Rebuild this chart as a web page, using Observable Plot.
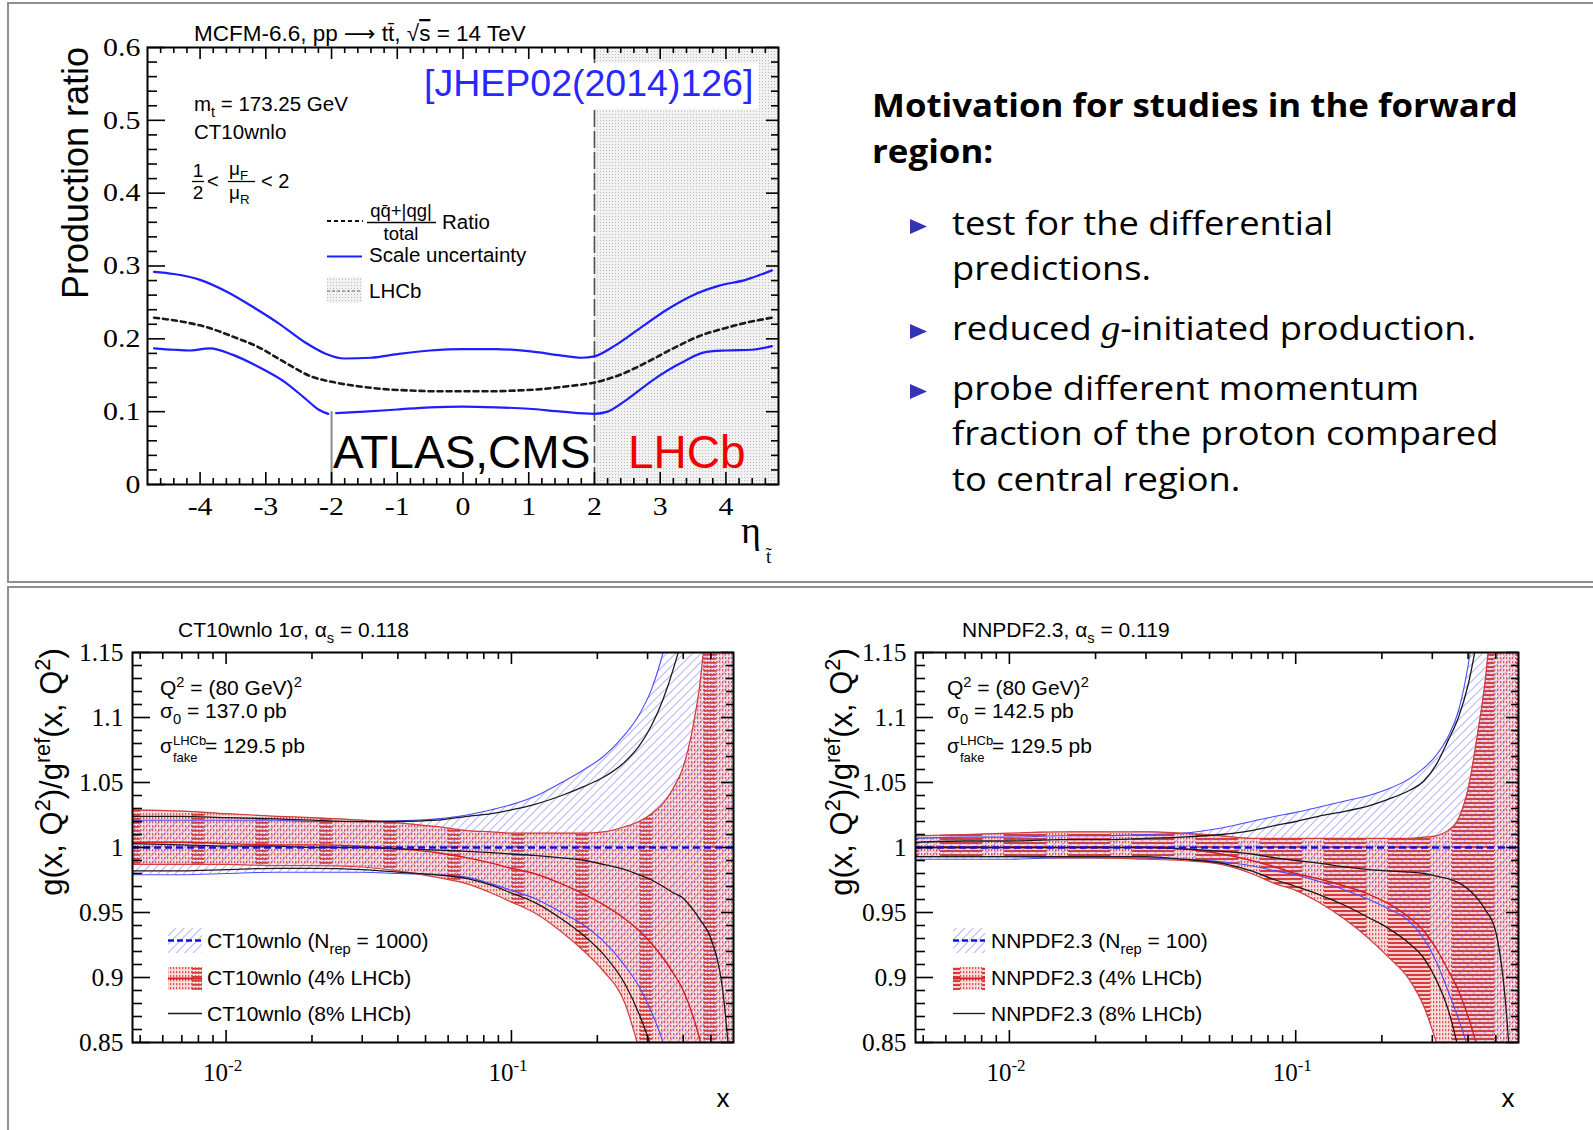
<!DOCTYPE html>
<html><head><meta charset="utf-8">
<script src="https://cdn.jsdelivr.net/npm/d3@7"></script>
<script src="https://cdn.jsdelivr.net/npm/@observablehq/plot@0.6"></script>
<style>
html,body{margin:0;padding:0;background:#fff;}
#page{position:relative;width:1593px;height:1130px;overflow:hidden;background:#fff;}
.line{position:absolute;background:#8f8f8f;}
</style></head><body>
<div id="page"></div>
<svg width="0" height="0" style="position:absolute">
<defs>
<pattern id="lhcbPat" width="3" height="3" patternUnits="userSpaceOnUse">
 <rect width="3" height="3" fill="#f1f1f1"/><rect width="1" height="1" fill="#bdbdbd"/>
</pattern>
<pattern id="blueHatch" width="6" height="6" patternUnits="userSpaceOnUse" patternTransform="rotate(45)">
 <line x1="0" y1="0" x2="0" y2="6" stroke="#7272ff" stroke-width="1.1"/>
</pattern>
<pattern id="dotsRed" width="3" height="3" patternUnits="userSpaceOnUse">
 <rect width="3" height="3" fill="#f9dede"/><rect width="1.3" height="1.3" fill="#de5a5a"/>
</pattern>
<pattern id="redCT" width="64" height="4" patternUnits="userSpaceOnUse">
 <rect width="64" height="4" fill="url(#dotsRed)"/>
 <rect x="0" y="0" width="12" height="1.7" fill="#d43838"/>
</pattern>
<pattern id="redNN" width="64" height="4" patternUnits="userSpaceOnUse">
 <rect width="64" height="4" fill="#f7d2d2"/>
 <rect x="0" y="0" width="64" height="2" fill="#d63c3c"/>
 <rect x="0" y="0" width="22" height="4" fill="url(#dotsRed)"/>
</pattern>
</defs>
</svg>
<script>
// ================= TOP CHART DATA =================
const etaDomain = [-4.8, 4.8];
const ratioDomain = [0, 0.6];
const etaUpper = [-4.7,-4.4,-4.0,-3.6,-3.2,-2.8,-2.4,-2.1,-1.8,-1.4,-1.0,-0.5,0,0.5,1.0,1.5,1.8,2.0,2.3,2.7,3.1,3.5,3.9,4.3,4.7];
const ratioUpper = [0.292,0.289,0.281,0.265,0.244,0.221,0.195,0.180,0.173,0.174,0.179,0.184,0.186,0.186,0.183,0.177,0.174,0.176,0.190,0.215,0.240,0.260,0.273,0.281,0.294];
const etaCentral = [-4.7,-4.3,-3.9,-3.5,-3.1,-2.7,-2.3,-2.0,-1.6,-1.2,-0.8,-0.4,0,0.4,0.8,1.2,1.6,2.0,2.4,2.8,3.2,3.6,4.0,4.3,4.7];
const ratioCentral = [0.229,0.224,0.216,0.203,0.188,0.167,0.148,0.141,0.135,0.131,0.129,0.128,0.128,0.128,0.129,0.131,0.135,0.140,0.151,0.168,0.187,0.204,0.215,0.222,0.229];
const etaLower = [-4.7,-4.4,-4.15,-3.85,-3.5,-3.1,-2.7,-2.4,-2.2,-2.05,-1.93,-1.5,-1.0,-0.5,0,0.5,1.0,1.5,2.0,2.2,2.5,2.9,3.3,3.7,4.0,4.4,4.7];
const ratioLower = [0.187,0.185,0.184,0.187,0.178,0.161,0.140,0.118,0.103,0.097,0.098,0.100,0.103,0.106,0.107,0.106,0.104,0.100,0.097,0.100,0.117,0.144,0.166,0.182,0.184,0.185,0.190];
const lhcbRegion = [2.0, 4.8];
const lhcbEdge = [2.0];
const atlasEdge = [{eta: -2.0, lo: 0, hi: 0.1}];
const yTicksTop = [0, 0.1, 0.2, 0.3, 0.4, 0.5, 0.6];
const xTicksTop = [-4, -3, -2, -1, 0, 1, 2, 3, 4];

// ================= BOTTOM CHARTS DATA =================
const xDomainPDF = [0.0047, 0.6];
const ratioDomainPDF = [0.85, 1.15];
const yTicksPDF = [0.85, 0.9, 0.95, 1, 1.05, 1.1, 1.15];
const decades = [0.01, 0.1];
const centralValue = [1.0];
const xGrid = [0.0047,0.007,0.01,0.015,0.02,0.03,0.04,0.055,0.07,0.085,0.1,0.12,0.15,0.18,0.21,0.25,0.28,0.31,0.34,0.37,0.4,0.43,0.46,0.5,0.55,0.6];
// CT10wnlo
const ctBlueUp  = [1.021,1.021,1.021,1.021,1.020,1.020,1.0205,1.022,1.025,1.029,1.033,1.039,1.050,1.060,1.070,1.087,1.102,1.122,1.150,1.185,1.225,1.27,1.32,1.40,1.50,1.60];
const ctBlueLo  = [0.979,0.979,0.980,0.981,0.981,0.981,0.980,0.979,0.977,0.972,0.967,0.961,0.950,0.940,0.928,0.909,0.893,0.873,0.850,0.82,0.79,0.76,0.72,0.68,0.62,0.56];
const ctRedUp   = [1.029,1.028,1.026,1.024,1.023,1.021,1.019,1.016,1.013,1.012,1.011,1.011,1.011,1.011,1.012,1.016,1.020,1.026,1.034,1.046,1.062,1.090,1.130,1.22,1.35,1.50];
const ctRedLo   = [0.987,0.987,0.987,0.986,0.986,0.985,0.982,0.977,0.972,0.965,0.958,0.950,0.935,0.920,0.905,0.880,0.845,0.810,0.770,0.730,0.690,0.650,0.600,0.550,0.500,0.450];
const ctRedMid  = [1.004,1.004,1.003,1.002,1.002,1.001,0.999,0.996,0.992,0.988,0.984,0.980,0.972,0.964,0.956,0.945,0.936,0.926,0.915,0.903,0.890,0.872,0.850,0.81,0.75,0.70];
const ctBlackUp = [1.024,1.024,1.023,1.022,1.021,1.020,1.020,1.021,1.024,1.026,1.029,1.033,1.040,1.047,1.054,1.066,1.078,1.094,1.114,1.138,1.165,1.20,1.24,1.30,1.40,1.50];
const ctBlackLo = [0.982,0.982,0.983,0.984,0.984,0.983,0.981,0.979,0.976,0.971,0.965,0.958,0.945,0.932,0.918,0.895,0.872,0.845,0.810,0.780,0.740,0.700,0.660,0.600,0.550,0.500];
const ctBlackMid= [1.003,1.002,1.001,1.001,1.000,1.000,0.999,0.998,0.997,0.996,0.995,0.994,0.992,0.990,0.987,0.983,0.979,0.975,0.970,0.965,0.961,0.953,0.944,0.930,0.890,0.800];
// NNPDF2.3
const nnBlueUp  = [1.007,1.008,1.008,1.009,1.009,1.010,1.011,1.015,1.020,1.024,1.027,1.031,1.036,1.040,1.045,1.053,1.061,1.071,1.085,1.105,1.140,1.19,1.25,1.35,1.50,1.60];
const nnBlueLo  = [0.991,0.991,0.991,0.992,0.992,0.992,0.991,0.989,0.986,0.982,0.979,0.974,0.967,0.960,0.953,0.943,0.930,0.912,0.890,0.868,0.845,0.81,0.77,0.70,0.60,0.50];
const nnRedUp   = [1.009,1.010,1.011,1.012,1.012,1.012,1.011,1.009,1.007,1.007,1.007,1.007,1.007,1.007,1.007,1.007,1.008,1.009,1.013,1.022,1.045,1.085,1.130,1.22,1.35,1.50];
const nnRedLo   = [0.993,0.993,0.993,0.992,0.992,0.991,0.990,0.987,0.980,0.972,0.967,0.958,0.944,0.930,0.916,0.898,0.878,0.850,0.820,0.790,0.750,0.700,0.650,0.600,0.500,0.400];
const nnRedMid  = [1.000,1.000,1.000,1.000,1.000,1.000,0.999,0.995,0.990,0.985,0.980,0.976,0.970,0.964,0.957,0.946,0.936,0.922,0.906,0.890,0.870,0.847,0.820,0.780,0.700,0.600];
const nnBlackUp = [1.004,1.005,1.005,1.006,1.006,1.007,1.008,1.010,1.013,1.017,1.020,1.024,1.028,1.032,1.037,1.044,1.051,1.064,1.082,1.100,1.125,1.16,1.20,1.28,1.40,1.50];
const nnBlackLo = [0.993,0.993,0.993,0.993,0.993,0.993,0.991,0.988,0.982,0.975,0.970,0.964,0.955,0.946,0.938,0.926,0.915,0.898,0.876,0.845,0.810,0.770,0.720,0.650,0.550,0.450];
const nnBlackMid= [1.000,1.000,1.000,1.000,1.000,1.000,0.999,0.997,0.995,0.992,0.990,0.988,0.985,0.983,0.982,0.981,0.980,0.978,0.976,0.973,0.968,0.961,0.952,0.935,0.860,0.700];

// ================= HELPERS =================
const page = document.getElementById("page");
function place(el, left, top) {
  el.style.position = "absolute"; el.style.left = left + "px"; el.style.top = top + "px";
  page.appendChild(el);
}
function frameTicks({xMajor, xMinor, yMajor, yMinor, w, h, L}) {
  const s = {stroke: "black", strokeWidth: 1.6};
  return [
    Plot.tickY(yMajor, {y: d => d, insetRight: w - L.yl, ...s}),
    Plot.tickY(yMinor, {y: d => d, insetRight: w - L.ylm, ...s}),
    Plot.tickY(yMajor, {y: d => d, insetLeft: w - L.yr, ...s}),
    Plot.tickY(yMinor, {y: d => d, insetLeft: w - L.yrm, ...s}),
    Plot.tickX(xMajor, {x: d => d, insetTop: h - L.x, ...s}),
    Plot.tickX(xMinor, {x: d => d, insetTop: h - L.xm, ...s}),
    Plot.tickX(xMajor, {x: d => d, insetBottom: h - L.x, ...s}),
    Plot.tickX(xMinor, {x: d => d, insetBottom: h - L.xm, ...s})
  ];
}
function stretch(svg, label, f) {
  svg.querySelectorAll(`g[aria-label="${label}"] text`).forEach(t => {
    const len = t.getComputedTextLength();
    t.setAttribute("textLength", (len * f).toFixed(1));
    t.setAttribute("lengthAdjust", "spacingAndGlyphs");
  });
}

// ================= TOP CHART =================
{
  const W = 800, H = 580, mL = 147, mR = 22, mT = 47, mB = 96;
  const w = W - mL - mR, h = H - mT - mB;
  const upperRows = etaUpper.map((eta, i) => ({eta, v: ratioUpper[i]}));
  const centralRows = etaCentral.map((eta, i) => ({eta, v: ratioCentral[i]}));
  const lowerRows = etaLower.map((eta, i) => ({eta, v: ratioLower[i], seg: eta < -2 ? "a" : "b"}));
  const yMinor = d3.range(0.02, 0.6, 0.02).filter(v => Math.abs(v * 10 - Math.round(v * 10)) > 1e-6);
  const xMinor = d3.range(-4.6, 4.61, 0.2).filter(v => Math.abs(v - Math.round(v)) > 1e-6);
  const svg = Plot.plot({
    width: W, height: H, marginLeft: mL, marginRight: mR, marginTop: mT, marginBottom: mB,
    x: {domain: etaDomain}, y: {domain: ratioDomain},
    style: {background: "transparent", overflow: "visible", color: "black"},
    marks: [
      Plot.rect([lhcbRegion], {x1: d => d[0], x2: d => d[1], fill: "url(#lhcbPat)"}),
      Plot.ruleX(lhcbEdge, {x: d => d, stroke: "#505050", strokeWidth: 1.6, strokeDasharray: "17,4"}),
      Plot.ruleX(atlasEdge, {x: "eta", y1: "lo", y2: "hi", stroke: "#8a8a8a", strokeWidth: 2}),
      Plot.line(centralRows, {x: "eta", y: "v", stroke: "#1a1a1a", strokeWidth: 2.6, strokeDasharray: "5,4", curve: "monotone-x"}),
      Plot.line(upperRows, {x: "eta", y: "v", stroke: "#1e1eff", strokeWidth: 2.2, curve: "monotone-x"}),
      Plot.line(lowerRows, {x: "eta", y: "v", z: "seg", stroke: "#1e1eff", strokeWidth: 2.2, curve: "monotone-x"}),
      ...frameTicks({xMajor: xTicksTop, xMinor, yMajor: yTicksTop, yMinor, w, h,
        L: {yl: 18, ylm: 10, yr: 12, yrm: 7, x: 12, xm: 6}}),
      Plot.frame({stroke: "black", strokeWidth: 2}),
      Plot.axisY(yTicksTop, {tickSize: 0, tickPadding: 7, tickFormat: d => String(d), fontSize: 26, fontFamily: "Liberation Serif", label: null}),
      Plot.axisX(xTicksTop, {tickSize: 0, tickPadding: 12, tickFormat: d => String(d), fontSize: 26, fontFamily: "Liberation Serif", label: null})
    ]
  });
  place(svg, 0, 0);
  stretch(svg, "y-axis tick label", 1.15);
  stretch(svg, "x-axis tick label", 1.15);
}

// ================= BOTTOM CHARTS =================
function pdfChart(rows, {left, width, marginLeft, marginRight, redFill}) {
  const H = 540, mT = 62, mB = 88;
  const w = width - marginLeft - marginRight, h = H - mT - mB;
  const curve = "monotone-x";
  const yMinor = d3.range(0.86, 1.15, 0.01).filter(v => Math.abs(v * 20 - Math.round(v * 20)) > 1e-6);
  const xMinor = [...d3.range(5, 10).map(k => k * 0.001), ...d3.range(2, 10).map(k => k * 0.01), ...d3.range(2, 6).map(k => k * 0.1)];
  const svg = Plot.plot({
    width, height: H, marginLeft, marginRight, marginTop: mT, marginBottom: mB,
    x: {type: "log", domain: xDomainPDF, axis: null},
    y: {domain: ratioDomainPDF},
    style: {background: "transparent", overflow: "visible", color: "black"},
    marks: [
      Plot.areaY(rows, {x: "x", y1: "redLo", y2: "redUp", fill: redFill, curve, clip: true}),
      Plot.areaY(rows, {x: "x", y1: "blueLo", y2: "blueUp", fill: "url(#blueHatch)", curve, clip: true}),
      Plot.line(rows, {x: "x", y: "blueUp", stroke: "#4b4bff", strokeWidth: 1.1, curve, clip: true}),
      Plot.line(rows, {x: "x", y: "blueLo", stroke: "#4b4bff", strokeWidth: 1.1, curve, clip: true}),
      Plot.line(rows, {x: "x", y: "redUp", stroke: "#d23c3c", strokeWidth: 1.2, curve, clip: true}),
      Plot.line(rows, {x: "x", y: "redLo", stroke: "#d23c3c", strokeWidth: 1.2, curve, clip: true}),
      Plot.line(rows, {x: "x", y: "redMid", stroke: "#d61e1e", strokeWidth: 1.4, curve, clip: true}),
      Plot.line(rows, {x: "x", y: "blackUp", stroke: "#1a1a1a", strokeWidth: 1.3, curve, clip: true}),
      Plot.line(rows, {x: "x", y: "blackLo", stroke: "#1a1a1a", strokeWidth: 1.3, curve, clip: true}),
      Plot.line(rows, {x: "x", y: "blackMid", stroke: "#1a1a1a", strokeWidth: 1.3, curve, clip: true}),
      Plot.ruleY(centralValue, {y: d => d, stroke: "#1212d6", strokeWidth: 2.6, strokeDasharray: "7,4"}),
      ...frameTicks({xMajor: decades, xMinor, yMajor: yTicksPDF, yMinor, w, h,
        L: {yl: 18, ylm: 10, yr: 12, yrm: 7, x: 12, xm: 7}}),
      Plot.frame({stroke: "black", strokeWidth: 2}),
      Plot.axisY(yTicksPDF, {tickSize: 0, tickPadding: 9, tickFormat: d => String(d), fontSize: 25, fontFamily: "Liberation Serif", label: null}),
      Plot.text(decades, {x: d => d, frameAnchor: "bottom", text: () => "10", textAnchor: "end", dx: 2, dy: 38, fontSize: 25, fontFamily: "Liberation Serif"}),
      Plot.text(decades, {x: d => d, frameAnchor: "bottom", text: d => String(Math.round(Math.log10(d))), textAnchor: "start", dx: 2, dy: 28, fontSize: 17, fontFamily: "Liberation Serif"})
    ]
  });
  place(svg, left, 590);
  stretch(svg, "y-axis tick label", 1.02);
}
const ctRows = xGrid.map((x, i) => ({x, blueUp: ctBlueUp[i], blueLo: ctBlueLo[i], redUp: ctRedUp[i], redLo: ctRedLo[i], redMid: ctRedMid[i], blackUp: ctBlackUp[i], blackLo: ctBlackLo[i], blackMid: ctBlackMid[i]}));
const nnRows = xGrid.map((x, i) => ({x, blueUp: nnBlueUp[i], blueLo: nnBlueLo[i], redUp: nnRedUp[i], redLo: nnRedLo[i], redMid: nnRedMid[i], blackUp: nnBlackUp[i], blackLo: nnBlackLo[i], blackMid: nnBlackMid[i]}));
pdfChart(ctRows, {left: 0, width: 790, marginLeft: 132, marginRight: 57, redFill: "url(#redCT)"});
pdfChart(nnRows, {left: 790, width: 803, marginLeft: 125, marginRight: 75, redFill: "url(#redNN)"});

// ================= PANEL BORDERS =================
function hline(x, y, w) { const d = document.createElement("div"); d.className = "line"; d.style.cssText += `left:${x}px;top:${y}px;width:${w}px;height:2px;`; page.appendChild(d); }
function vline(x, y, h) { const d = document.createElement("div"); d.className = "line"; d.style.cssText += `left:${x}px;top:${y}px;width:2px;height:${h}px;`; page.appendChild(d); }
hline(7, 2, 1600); vline(7, 2, 581); hline(7, 581, 1600);
hline(7, 586, 1600); vline(7, 586, 560);

// ================= TEXT OVERLAY =================
function rich(s, fs) {
  const parts = s.split(/(\^\{[^}]*\}|_\{[^}]*\})/);
  let cur = 0, out = "";
  for (const p of parts) {
    if (!p) continue;
    let shift = 0, size = fs, text = p;
    if (p.startsWith("^{")) { shift = -0.38 * fs; size = 0.7 * fs; text = p.slice(2, -1); }
    else if (p.startsWith("_{")) { shift = 0.28 * fs; size = 0.7 * fs; text = p.slice(2, -1); }
    out += `<tspan dy="${(shift - cur).toFixed(2)}" font-size="${size.toFixed(1)}">${text}</tspan>`;
    cur = shift;
  }
  return out;
}
function T(x, y, fs, s, o = {}) {
  const tr = o.rotate ? `translate(${x},${y}) rotate(-90)` : `translate(${x},${y})` + (o.sx ? ` scale(${o.sx},1)` : "");
  const body = o.raw ? s : rich(s, fs);
  return `<text transform="${tr}" font-family="${o.family || "Liberation Sans"}" font-size="${fs}" fill="${o.fill || "#000"}" text-anchor="${o.anchor || "start"}" font-weight="${o.weight || 400}" style="white-space:pre">${body}</text>`;
}
let ov = "";
// --- top chart annotations
ov += `<rect x="420" y="63" width="339" height="46" fill="#fff"/>`;
ov += T(194, 41, 22.5, `MCFM-6.6, pp <tspan font-family="DejaVu Sans" font-size="22">⟶</tspan> tt&#x304;, √<tspan style="text-decoration:overline">s</tspan> = 14 TeV`, {raw: true});
ov += T(194, 111, 20.5, "m_{t} = 173.25 GeV");
ov += T(194, 139, 20.5, "CT10wnlo");
ov += T(198, 177, 19, "1", {anchor: "middle"}) + `<line x1="192" x2="204" y1="181.5" y2="181.5" stroke="#000" stroke-width="1.3"/>` + T(198, 199, 19, "2", {anchor: "middle"});
ov += T(207, 188, 20, "<");
ov += T(229, 175, 19, "μ_{F}") + `<line x1="228" x2="255" y1="181.5" y2="181.5" stroke="#000" stroke-width="1.3"/>` + T(229, 199, 19, "μ_{R}");
ov += T(261, 188, 20, "< 2");
ov += `<line x1="327" x2="363" y1="221" y2="221" stroke="#111" stroke-width="2.2" stroke-dasharray="4,3"/>`;
ov += T(401, 217, 18.5, `qq&#x304;+|qg|`, {raw: true, anchor: "middle"}) + `<line x1="367" x2="436" y1="222.5" y2="222.5" stroke="#000" stroke-width="1.4"/>` + T(401, 240, 18.5, "total", {anchor: "middle"});
ov += T(442, 229, 20.5, "Ratio");
ov += `<line x1="327" x2="362" y1="256.5" y2="256.5" stroke="#1e1eff" stroke-width="2.2"/>`;
ov += T(369, 262, 20.5, "Scale uncertainty");
ov += `<rect x="327" y="277" width="35" height="26" fill="url(#lhcbPat)"/><line x1="327" x2="362" y1="291" y2="291" stroke="#666" stroke-width="1.2" stroke-dasharray="3,2"/>`;
ov += T(369, 298, 20.5, "LHCb");
ov += T(424, 96, 37.5, "[JHEP02(2014)126]", {fill: "#2727ff"});
ov += T(333, 468, 46, "ATLAS,CMS");
ov += T(628, 468, 46, "LHCb", {fill: "#f00000"});
ov += T(88, 173, 36, "Production ratio", {rotate: true, anchor: "middle"});
ov += T(741, 543, 38, "η", {family: "Liberation Serif"});
ov += T(766, 563, 19, `t&#x303;`, {family: "Liberation Serif", raw: true});
// --- bottom left
ov += T(178, 637, 20, "CT10wnlo 1σ, α_{s} = 0.118", {sx: 1.05});
ov += T(160, 695, 20, "Q^{2} = (80 GeV)^{2}", {sx: 1.05});
ov += T(160, 718, 20, "σ_{0} = 137.0 pb", {sx: 1.05});
ov += T(160, 753, 20, "σ") + T(173, 745, 13, "LHCb") + T(173, 762, 13, "fake") + T(205, 753, 20, "= 129.5 pb", {sx: 1.05});
ov += T(62, 772, 31, "g(x, Q^{2})/g^{ref}(x, Q^{2})", {rotate: true, anchor: "middle"});
ov += T(723, 1107, 26, "x", {anchor: "middle"});
// legend left
ov += `<rect x="168" y="928" width="34" height="25" fill="url(#blueHatch)"/><line x1="168" x2="202" y1="940.5" y2="940.5" stroke="#1212d6" stroke-width="2.6" stroke-dasharray="6,3"/>`;
ov += `<rect x="168" y="967" width="34" height="23" fill="url(#redCT)"/><line x1="168" x2="202" y1="978.5" y2="978.5" stroke="#d61e1e" stroke-width="2"/>`;
ov += `<line x1="168" x2="202" y1="1013.5" y2="1013.5" stroke="#1a1a1a" stroke-width="1.3"/>`;
ov += T(207, 948, 21, "CT10wnlo (N_{rep} = 1000)");
ov += T(207, 985, 21, "CT10wnlo (4% LHCb)");
ov += T(207, 1021, 21, "CT10wnlo (8% LHCb)");
// --- bottom right
ov += T(962, 637, 20, "NNPDF2.3, α_{s} = 0.119", {sx: 1.05});
ov += T(947, 695, 20, "Q^{2} = (80 GeV)^{2}", {sx: 1.05});
ov += T(947, 718, 20, "σ_{0} = 142.5 pb", {sx: 1.05});
ov += T(947, 753, 20, "σ") + T(960, 745, 13, "LHCb") + T(960, 762, 13, "fake") + T(992, 753, 20, "= 129.5 pb", {sx: 1.05});
ov += T(852, 772, 31, "g(x, Q^{2})/g^{ref}(x, Q^{2})", {rotate: true, anchor: "middle"});
ov += T(1508, 1107, 26, "x", {anchor: "middle"});
ov += `<rect x="953" y="928" width="32" height="25" fill="url(#blueHatch)"/><line x1="953" x2="985" y1="940.5" y2="940.5" stroke="#1212d6" stroke-width="2.6" stroke-dasharray="6,3"/>`;
ov += `<rect x="953" y="967" width="32" height="23" fill="url(#redNN)"/><line x1="953" x2="985" y1="978.5" y2="978.5" stroke="#d61e1e" stroke-width="2"/>`;
ov += `<line x1="953" x2="985" y1="1013.5" y2="1013.5" stroke="#1a1a1a" stroke-width="1.3"/>`;
ov += T(991, 948, 21, "NNPDF2.3 (N_{rep} = 100)");
ov += T(991, 985, 21, "NNPDF2.3 (4% LHCb)");
ov += T(991, 1021, 21, "NNPDF2.3 (8% LHCb)");
// --- right text block
const bodyFont = "Open Sans";
ov += T(872, 117, 32, "Motivation for studies in the forward", {family: bodyFont, weight: 700, sx: 1.09});
ov += T(872, 163, 32, "region:", {family: bodyFont, weight: 700, sx: 1.09});
for (const b of [235, 340, 400]) ov += `<polygon points="910,${b-16} 927,${b-8.5} 910,${b-1}" fill="#3333b3"/>`;
ov += T(952, 235, 33, "test for the differential", {family: bodyFont, sx: 1.1});
ov += T(952, 280, 33, "predictions.", {family: bodyFont, sx: 1.1});
ov += T(952, 340, 33, `reduced <tspan font-family="Liberation Serif" font-style="italic" font-size="35">g</tspan>-initiated production.`, {family: bodyFont, raw: true, sx: 1.1});
ov += T(952, 400, 33, "probe different momentum", {family: bodyFont, sx: 1.1});
ov += T(952, 445, 33, "fraction of the proton compared", {family: bodyFont, sx: 1.1});
ov += T(952, 491, 33, "to central region.", {family: bodyFont, sx: 1.1});

const overlay = document.createElementNS("http://www.w3.org/2000/svg", "svg");
overlay.setAttribute("width", 1593); overlay.setAttribute("height", 1130);
overlay.style.position = "absolute"; overlay.style.left = "0px"; overlay.style.top = "0px";
overlay.innerHTML = ov;
page.appendChild(overlay);
</script>
</body></html>
